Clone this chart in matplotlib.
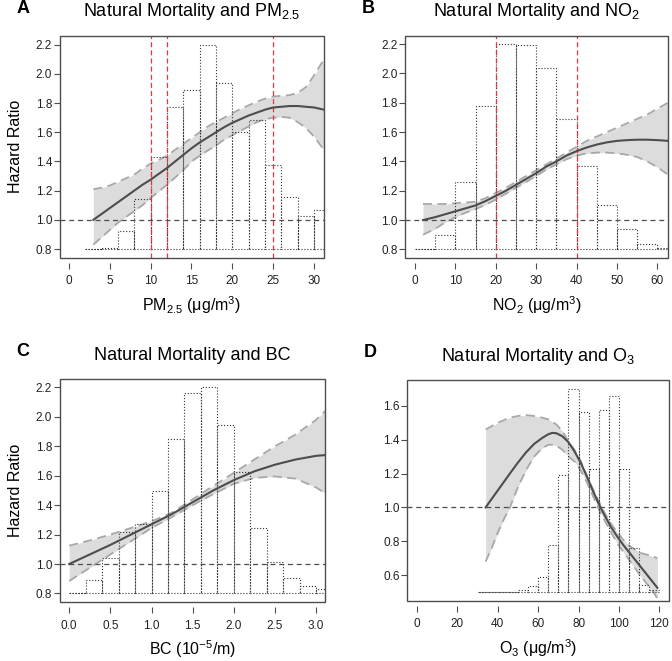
import matplotlib
matplotlib.use("Agg")
import matplotlib.pyplot as plt
from matplotlib.patches import Rectangle

plt.rcParams["font.family"] = ["Liberation Sans", "DejaVu Sans"]
plt.rcParams["mathtext.fontset"] = "custom"
plt.rcParams["mathtext.rm"] = "Liberation Sans"
plt.rcParams["mathtext.it"] = "Liberation Sans:italic"
plt.rcParams["mathtext.bf"] = "Liberation Sans:bold"

GREY = "#4d4d4d"
BAND = "#dcdcdc"
BAND_EDGE = "#a8a8a8"
RED = "#e8343c"

# ---- A: PM2.5 ----
pm_bins = [2, 4, 6, 8, 10, 12, 14, 16, 18, 20, 22, 24, 26, 28, 30]
pm_hist = [0.80, 0.81, 0.925, 1.145, 1.43, 1.775, 1.89, 2.20, 1.935, 1.60, 1.685, 1.375, 1.16, 1.025, 1.065]
pm_x = [3, 4, 5, 6, 7, 8, 9, 10, 11, 12, 13, 14, 15, 16, 17, 18, 19, 20, 21, 22,
        23, 24, 25, 26, 27, 28, 29, 30, 31.2]
pm_fit = [1.00, 1.04, 1.08, 1.12, 1.16, 1.20, 1.24, 1.275, 1.315, 1.355, 1.40, 1.445,
          1.49, 1.53, 1.565, 1.60, 1.635, 1.665, 1.69, 1.715, 1.735, 1.755, 1.77, 1.775,
          1.78, 1.78, 1.775, 1.77, 1.755]
pm_hi = [1.21, 1.22, 1.235, 1.26, 1.285, 1.31, 1.35, 1.385, 1.41, 1.44, 1.48, 1.52,
         1.56, 1.60, 1.64, 1.67, 1.70, 1.73, 1.76, 1.785, 1.81, 1.83, 1.845, 1.85,
         1.855, 1.87, 1.91, 1.99, 2.10]
pm_lo = [0.83, 0.88, 0.93, 0.98, 1.02, 1.06, 1.10, 1.15, 1.195, 1.24, 1.29, 1.34,
         1.40, 1.44, 1.475, 1.51, 1.55, 1.58, 1.61, 1.64, 1.67, 1.69, 1.70, 1.705,
         1.70, 1.67, 1.63, 1.57, 1.48]
pm_refs = [10, 12, 25]

# ---- B: NO2 ----
no2_bins = [0, 5, 10, 15, 20, 25, 30, 35, 40, 45, 50, 55, 60]
no2_hist = [0.805, 0.90, 1.26, 1.78, 2.20, 2.195, 2.035, 1.69, 1.37, 1.105, 0.94, 0.84, 0.81]
no2_x = [2, 5, 7.5, 10, 12.5, 15, 17.5, 20, 22.5, 25, 27.5, 30, 32.5, 35, 37.5, 40,
         42.5, 45, 47.5, 50, 52.5, 55, 57.5, 60, 62.6]
no2_fit = [1.00, 1.02, 1.04, 1.06, 1.08, 1.10, 1.13, 1.165, 1.20, 1.24, 1.28, 1.32,
           1.365, 1.40, 1.44, 1.47, 1.495, 1.515, 1.53, 1.54, 1.545, 1.548, 1.548,
           1.545, 1.54]
no2_hi = [1.11, 1.11, 1.11, 1.115, 1.12, 1.125, 1.15, 1.185, 1.22, 1.26, 1.30, 1.34,
          1.38, 1.42, 1.46, 1.50, 1.54, 1.57, 1.60, 1.63, 1.66, 1.69, 1.72, 1.76, 1.80]
no2_lo = [0.90, 0.94, 0.985, 1.02, 1.05, 1.075, 1.105, 1.14, 1.18, 1.22, 1.26, 1.30,
          1.345, 1.38, 1.415, 1.44, 1.455, 1.46, 1.46, 1.455, 1.445, 1.43, 1.40, 1.36, 1.31]
no2_refs = [20, 40]

# ---- C: BC ----
bc_bins = [0.0, 0.2, 0.4, 0.6, 0.8, 1.0, 1.2, 1.4, 1.6, 1.8, 2.0, 2.2, 2.4, 2.6, 2.8, 3.0]
bc_hist = [0.805, 0.893, 1.038, 1.22, 1.274, 1.496, 1.85, 2.16, 2.20, 1.946, 1.626,
           1.247, 1.016, 0.907, 0.852, 0.83]
bc_x = [0.0, 0.25, 0.5, 0.75, 1.0, 1.25, 1.5, 1.75, 2.0, 2.25, 2.5, 2.75, 3.0, 3.11]
bc_fit = [1.00, 1.065, 1.13, 1.20, 1.27, 1.34, 1.42, 1.50, 1.57, 1.63, 1.675, 1.71,
          1.735, 1.74]
bc_hi = [1.125, 1.16, 1.20, 1.245, 1.29, 1.35, 1.44, 1.53, 1.62, 1.71, 1.80, 1.88,
         1.98, 2.04]
bc_lo = [0.885, 0.975, 1.065, 1.155, 1.245, 1.32, 1.40, 1.475, 1.545, 1.585, 1.595,
         1.58, 1.52, 1.48]

# ---- D: O3 ----
o3_bins = [30, 35, 40, 45, 50, 55, 60, 65, 70, 75, 80, 85, 90, 95, 100, 105, 110, 115]
o3_hist = [0.50, 0.50, 0.50, 0.502, 0.51, 0.533, 0.586, 0.775, 1.189, 1.70, 1.561,
           1.224, 1.575, 1.659, 1.224, 0.76, 0.54, 0.51]
o3_x = [34, 37, 40, 43, 46, 50, 54, 58, 62, 65, 67, 69, 72, 75, 78, 81, 84, 87, 90,
        93, 96, 99, 102, 105, 108, 111, 114, 117, 119]
o3_fit = [1.00, 1.05, 1.10, 1.15, 1.20, 1.265, 1.325, 1.375, 1.41, 1.432, 1.44,
          1.438, 1.42, 1.385, 1.33, 1.265, 1.185, 1.10, 1.02, 0.95, 0.885, 0.83,
          0.78, 0.735, 0.69, 0.645, 0.60, 0.555, 0.525]
o3_hi = [1.46, 1.48, 1.50, 1.515, 1.53, 1.54, 1.545, 1.54, 1.53, 1.52, 1.505, 1.49,
         1.45, 1.39, 1.34, 1.275, 1.19, 1.11, 1.035, 0.965, 0.905, 0.855, 0.81,
         0.775, 0.75, 0.73, 0.72, 0.71, 0.70]
o3_lo = [0.68, 0.76, 0.85, 0.93, 1.00, 1.12, 1.22, 1.30, 1.35, 1.37, 1.37, 1.365,
         1.34, 1.30, 1.27, 1.22, 1.15, 1.07, 0.99, 0.92, 0.855, 0.79, 0.74, 0.69,
         0.64, 0.59, 0.545, 0.50, 0.46]

fig = plt.figure(figsize=(6.72, 6.61), dpi=100)

panels = [
    dict(rect=[0.089, 0.610, 0.393, 0.336], letter="A",
         title="Natural Mortality and PM$_{2.5}$", xlabel="PM$_{2.5}$ (μg/m$^{3}$)",
         bins=pm_bins, hist=pm_hist, width=2, base=0.8,
         x=pm_x, fit=pm_fit, hi=pm_hi, lo=pm_lo, refs=pm_refs,
         xlim=(-1.1, 31.2), ylim=(0.74, 2.262), xticks=range(0, 31, 5),
         yticks=[0.8, 1.0, 1.2, 1.4, 1.6, 1.8, 2.0, 2.2], yfmt="%.1f", xfmt="%d", ylabel=True),
    dict(rect=[0.603, 0.610, 0.391, 0.336], letter="B",
         title="Natural Mortality and NO$_{2}$", xlabel="NO$_{2}$ (μg/m$^{3}$)",
         bins=no2_bins, hist=no2_hist, width=5, base=0.8,
         x=no2_x, fit=no2_fit, hi=no2_hi, lo=no2_lo, refs=no2_refs,
         xlim=(-2.4, 62.6), ylim=(0.743, 2.257), xticks=range(0, 61, 10),
         yticks=[0.8, 1.0, 1.2, 1.4, 1.6, 1.8, 2.0, 2.2], yfmt="%.1f", xfmt="%d", ylabel=False),
    dict(rect=[0.089, 0.089, 0.395, 0.337], letter="C",
         title="Natural Mortality and BC", xlabel="BC (10$^{-5}$/m)",
         bins=bc_bins, hist=bc_hist, width=0.2, base=0.8,
         x=bc_x, fit=bc_fit, hi=bc_hi, lo=bc_lo, refs=[],
         xlim=(-0.114, 3.11), ylim=(0.741, 2.254), xticks=[0, 0.5, 1.0, 1.5, 2.0, 2.5, 3.0],
         yticks=[0.8, 1.0, 1.2, 1.4, 1.6, 1.8, 2.0, 2.2], yfmt="%.1f", xfmt="%.1f", ylabel=True),
    dict(rect=[0.606, 0.091, 0.390, 0.334], letter="D",
         title="Natural Mortality and O$_{3}$", xlabel="O$_{3}$ (μg/m$^{3}$)",
         bins=o3_bins, hist=o3_hist, width=5, base=0.5,
         x=o3_x, fit=o3_fit, hi=o3_hi, lo=o3_lo, refs=[],
         xlim=(-4.8, 124.9), ylim=(0.448, 1.752), xticks=range(0, 121, 20),
         yticks=[0.6, 0.8, 1.0, 1.2, 1.4, 1.6], yfmt="%.1f", xfmt="%d", ylabel=False),
]

for p in panels:
    ax = fig.add_axes(p["rect"])
    # confidence band
    ax.fill_between(p["x"], p["lo"], p["hi"], color=BAND, lw=0, zorder=1)
    ax.plot(p["x"], p["hi"], color=BAND_EDGE, lw=1.3, ls=(0, (5, 3)), zorder=2)
    ax.plot(p["x"], p["lo"], color=BAND_EDGE, lw=1.3, ls=(0, (5, 3)), zorder=2)
    # histogram of exposure, drawn on the HR scale
    heights = [h - p["base"] for h in p["hist"]]
    ax.bar(p["bins"], heights, width=p["width"], bottom=p["base"], align="edge",
           fill=False, edgecolor="#333333", lw=0.8, ls=":", zorder=3)
    ax.axhline(1.0, color=GREY, lw=0.9, ls=(0, (4, 3)), zorder=4)
    for r in p["refs"]:
        ax.axvline(r, color=RED, lw=0.9, ls=(0, (4, 2.5)), zorder=4)
    ax.plot(p["x"], p["fit"], color=GREY, lw=1.5, zorder=5)

    ax.set_xlim(*p["xlim"])
    ax.set_ylim(*p["ylim"])
    ax.set_xticks(list(p["xticks"]))
    ax.set_xticklabels([p["xfmt"] % t for t in p["xticks"]])
    ax.set_yticks(p["yticks"])
    ax.set_yticklabels([p["yfmt"] % t for t in p["yticks"]])

    for s in ["top", "right", "left"]:
        ax.spines[s].set_visible(False)
    ax.spines["bottom"].set_position(("outward", 3.5))
    ax.spines["bottom"].set_visible(False)
    ax.add_patch(Rectangle((0, 0), 1, 1, transform=ax.transAxes, fill=False,
                           edgecolor=GREY, lw=1.0, clip_on=False, zorder=6))
    ax.tick_params(axis="both", direction="out", length=4, width=0.8, color=GREY,
                   labelsize=8.5, labelcolor="#222222")
    ax.tick_params(axis="x", pad=5)
    ax.tick_params(axis="y", pad=1.5)

    ax.set_title(p["title"], fontsize=13, pad=14)
    ax.set_xlabel(p["xlabel"], fontsize=11.5, labelpad=5)
    if p["ylabel"]:
        ax.set_ylabel("Hazard Ratio", fontsize=11.5, labelpad=9)
    ax.text(-0.165, 1.085, p["letter"], transform=ax.transAxes, fontsize=13,
            fontweight="bold", ha="left", va="bottom")

fig.savefig("out.png", dpi=100)
